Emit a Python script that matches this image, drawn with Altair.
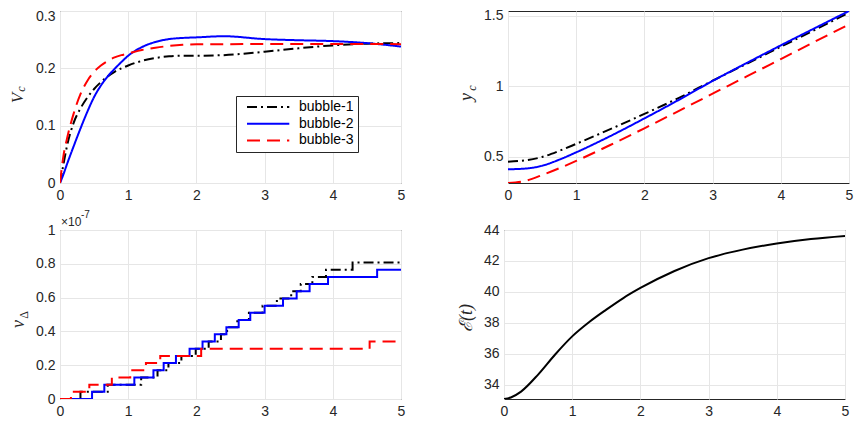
import altair as alt
import pandas as pd

series = ["bubble-1", "bubble-2", "bubble-3"]
colors = ["#000000", "#0000ff", "#ff0000"]
dashes = [[10, 4, 2, 4], [1, 0], [13, 7]]

# ---- Panel 1: V_c(t) ----
t_vc = [0, 0.05, 0.1, 0.2, 0.3, 0.4, 0.5, 0.6, 0.7, 0.8, 0.9, 1.0, 1.2, 1.4, 1.6,
        1.8, 2.0, 2.4, 3.0, 3.5, 4.0, 4.5, 5.0]
vc_b1 = [0, 0.032, 0.063, 0.105, 0.130, 0.149, 0.164, 0.176, 0.186, 0.194, 0.200,
         0.205, 0.213, 0.218, 0.221, 0.222, 0.222, 0.223, 0.229, 0.235, 0.240, 0.243, 0.244]
vc_b2 = [0, 0.015, 0.032, 0.064, 0.095, 0.124, 0.150, 0.170, 0.186, 0.199, 0.211,
         0.222, 0.237, 0.246, 0.251, 0.253, 0.254, 0.256, 0.251, 0.249, 0.2475, 0.244, 0.238]
vc_b3 = [0, 0.047, 0.076, 0.121, 0.155, 0.178, 0.194, 0.205, 0.213, 0.219, 0.223,
         0.226, 0.232, 0.236, 0.239, 0.241, 0.242, 0.242, 0.2425, 0.2425, 0.2425, 0.2425, 0.242]

# ---- Panel 2: y_c(t) ----
t_yc = [0, 0.25, 0.5, 0.75, 1, 1.5, 2, 2.5, 3, 3.5, 4, 4.5, 5]
yc_b1 = [0.467, 0.476, 0.500, 0.543, 0.593, 0.697, 0.805, 0.917, 1.040, 1.160, 1.280, 1.400, 1.522]
yc_b2 = [0.413, 0.418, 0.438, 0.481, 0.533, 0.648, 0.773, 0.903, 1.038, 1.165, 1.290, 1.412, 1.533]
yc_b3 = [0.316, 0.330, 0.372, 0.420, 0.472, 0.585, 0.703, 0.825, 0.948, 1.070, 1.193, 1.316, 1.438]

# ---- Panel 3: v_Delta(t) (x 1e-7), step curves ----
st_b1_t = [0, 0.30, 0.70, 1.19, 1.43, 1.59, 1.78, 1.99, 2.18, 2.36, 2.45, 2.60, 2.77,
           2.97, 3.18, 3.39, 3.53, 3.70, 3.90, 4.29, 5.0]
st_b1_v = [0, 0.0425, 0.085, 0.1275, 0.17, 0.2125, 0.255, 0.2975, 0.34, 0.3825, 0.425,
           0.4675, 0.51, 0.5525, 0.595, 0.6375, 0.68, 0.7225, 0.765, 0.8075, 0.8075]
st_b2_t = [0, 0.47, 0.65, 1.09, 1.37, 1.52, 1.70, 1.90, 2.09, 2.27, 2.44, 2.62, 2.79,
           3.00, 3.27, 3.47, 3.66, 3.93, 4.65, 5.0]
st_b2_v = [0, 0.0425, 0.085, 0.1275, 0.17, 0.2125, 0.255, 0.2975, 0.34, 0.3825, 0.425,
           0.4675, 0.51, 0.5525, 0.595, 0.6375, 0.68, 0.7225, 0.765, 0.765]
st_b3_t = [0, 0.16, 0.43, 0.76, 1.03, 1.26, 1.47, 2.07, 4.54, 5.0]
st_b3_v = [0, 0.0425, 0.085, 0.1275, 0.17, 0.2125, 0.255, 0.2975, 0.34, 0.34]

# ---- Panel 4: E(t) ----
t_e = [0, 0.1, 0.25, 0.5, 0.75, 1, 1.25, 1.5, 1.75, 2, 2.5, 3, 3.5, 4, 4.5, 5]
e_vals = [33.07, 33.17, 33.55, 34.65, 35.95, 37.12, 38.05, 38.85, 39.6, 40.25, 41.35,
          42.18, 42.73, 43.13, 43.42, 43.62]

x_ticks = [0, 1, 2, 3, 4, 5]

LBL = "#262626"
SANS = "Liberation Sans"
SERIF = "Liberation Serif, DejaVu Serif"


def long_df(ts, vs):
    rows = []
    for name, t, v in zip(series, ts, vs):
        for ti, vi in zip(t, v):
            rows.append({"t": ti, "v": vi, "s": name})
    return pd.DataFrame(rows)


one = pd.DataFrame({"k": [0]})


def txt(text, x, y, size, style="normal", font=SERIF, angle=270, align="center",
        baseline="middle"):
    return alt.Chart(one).mark_text(
        text=text, angle=angle, fontSize=size, fontStyle=style, font=font,
        align=align, baseline=baseline, color=LBL
    ).encode(x=alt.value(x), y=alt.value(y))


def xenc():
    return alt.X("t:Q", scale=alt.Scale(domain=[0, 5], nice=False),
                 axis=alt.Axis(values=x_ticks, format="~g", title=None,
                               labelPadding=5, labelFlush=False, labelOverlap=False))


def yenc(domain, values, top_label=None):
    ax = dict(values=values, format="~g", title=None, labelPadding=5,
              labelFlush=False, labelOverlap=False)
    if top_label is not None:
        ax["labelBaseline"] = {"condition": {"test": "datum.value >= %s" % top_label,
                                             "value": "line-top"}, "value": "middle"}
        ax["labelLineHeight"] = 9
    return alt.Y("v:Q", scale=alt.Scale(domain=domain, nice=False, zero=False),
                 axis=alt.Axis(**ax))


def series_lines(df, domain, values, interp, legend, top_label=None):
    if legend:
        leg = alt.Legend(orient="none", legendX=176, legendY=85, title=None,
                         direction="vertical", symbolType="M0,0H9.4", symbolSize=81,
                         symbolStrokeWidth=2, labelFontSize=14, labelFont=SANS,
                         labelColor="#000000", labelOffset=45, padding=4, rowPadding=2.7,
                         strokeColor="#262626", fillColor="white", cornerRadius=0)
        cenc = alt.Color("s:N", scale=alt.Scale(domain=series, range=colors), legend=leg)
        denc = alt.StrokeDash("s:N", scale=alt.Scale(domain=series, range=dashes), legend=leg)
    else:
        cenc = alt.Color("s:N", scale=alt.Scale(domain=series, range=colors), legend=None)
        denc = alt.StrokeDash("s:N", scale=alt.Scale(domain=series, range=dashes), legend=None)
    return alt.Chart(df).mark_line(strokeWidth=2, interpolate=interp, clip=True).encode(
        x=xenc(), y=yenc(domain, values, top_label), color=cenc, strokeDash=denc,
        order=alt.Order("t:Q"))


W = 341
H1 = 172
H2 = 169

tl = alt.layer(
    series_lines(long_df([t_vc] * 3, [vc_b1, vc_b2, vc_b3]), [0, 0.3], [0, 0.1, 0.2, 0.3],
                 "monotone", True, top_label=0.29),
    txt("V", -42, 87, 17, "italic"),
    txt("c", -39, 78, 12, "italic"),
).properties(width=W, height=H1)

tr = alt.layer(
    series_lines(long_df([t_yc] * 3, [yc_b1, yc_b2, yc_b3]), [0.316, 1.533], [0.5, 1, 1.5],
                 "monotone", False),
    txt("y", -41, 86, 18, "italic"),
    txt("c", -36, 77, 12, "italic"),
).properties(width=W, height=H1)

bl = alt.layer(
    series_lines(long_df([st_b1_t, st_b2_t, st_b3_t], [st_b1_v, st_b2_v, st_b3_v]), [0, 1],
                 [0, 0.2, 0.4, 0.6, 0.8, 1], "step-after", False),
    txt("v", -41, 94, 18, "italic"),
    txt("Δ", -36, 85, 12, "normal"),
    txt("×10", 1, -8, 12, "normal", SANS, 0, "left"),
    txt("-7", 21, -15, 10, "normal", SANS, 0, "left"),
).properties(width=W, height=H2)

edf = pd.DataFrame({"t": t_e, "v": e_vals})
br = alt.layer(
    alt.Chart(edf).mark_line(strokeWidth=2, interpolate="monotone", color="#000000",
                             clip=True).encode(
        x=xenc(), y=yenc([33.07, 44], [34, 36, 38, 40, 42, 44])),
    txt("ℰ(t)", -37, 88, 18, "italic"),
).properties(width=W, height=H2)

chart = alt.vconcat(
    alt.hconcat(tl, tr, spacing=51),
    alt.hconcat(bl, br, spacing=51),
    spacing=6,
).properties(
    padding={"left": 0, "top": 0, "right": 0, "bottom": 0}
).configure_view(
    stroke="#262626", strokeWidth=1
).configure_axis(
    domain=False, ticks=False, tickSize=0, grid=True, gridColor="#e6e6e6", gridWidth=1,
    labelFont=SANS, labelFontSize=14, labelColor=LBL
)

chart.save("out.html", embed_options={"renderer": "svg", "actions": False})
